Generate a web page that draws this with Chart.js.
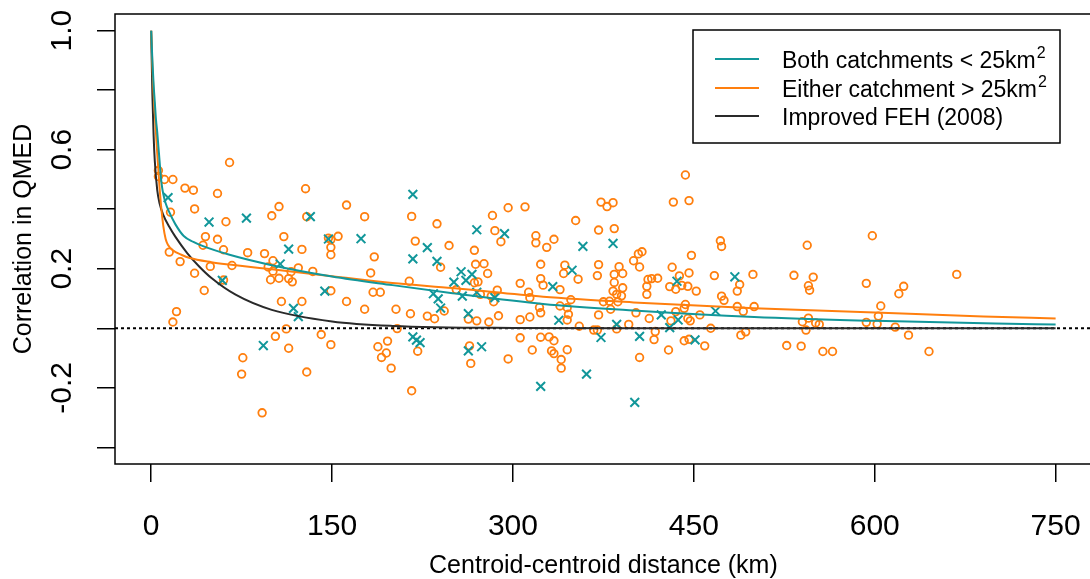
<!DOCTYPE html>
<html><head><meta charset="utf-8">
<script src="https://cdn.jsdelivr.net/npm/chart.js@4/dist/chart.umd.min.js"></script>
<style>html,body{margin:0;padding:0;overflow:hidden;background:#fff}#wrap{width:1100px;height:579px;position:relative}</style>
</head><body><div id="wrap"><canvas id="c" width="1100" height="579"></canvas></div>
<script>
// ---- data ----
const orangeX = [6,6,11,18,65,28,35,55,36,16,62,128,106,100,129,162,45,55,43,60,80,94,110,125,147,149,149,149,155,15,24,36,49,67,60,44,101,97,101,99,106,114,117,116,122,134,149,162,108,125,21,18,112,103,114,141,149,76,75,129,92,
 177,185,182,184,190,177,203,204,215,229,235,243,196,188,195,191,199,216,216,237,219,240,247,214,221,268,271,268,269,276,279,283,285,290,296,310,319,319,323,323,325,253,273,282,287,284,263,270,280,288,306,314,313,314,306,322,323,264,265,296,306,316,323,
 334,328,352,339,343,342,354,371,384,373,378,383,371,370,388,391,384,384,383,386,391,390,387,380,375,381,348,339,345,346,345,371,355,367,370,386,396,402,405,330,334,332,334,340,340,345,400,404,407,405,412,415,420,411,411,413,418,417,432,438,430,435,440,445,446,448,433,446,443,452,443,442,445,447,455,435,431,429,442,446,459,464,467,472,473,473,475,
 488,486,486,491,500,499,489,493,544,533,549,545,546,545,540,543,551,554,527,539,557,565,598,593,624,620,605,603,593,602,617,628,645,668];
const orangeY = [0.53,0.51,0.50,0.50,0.557,0.471,0.464,0.453,0.401,0.39,0.358,0.469,0.409,0.378,0.375,0.414,0.308,0.299,0.279,0.264,0.254,0.251,0.308,0.265,0.303,0.298,0.272,0.247,0.309,0.256,0.224,0.185,0.208,0.211,0.162,0.127,0.227,0.206,0.192,0.163,0.168,0.167,0.156,0.19,0.203,0.191,0.126,0.09,0.09,0.09,0.056,0.021,-0.002,-0.027,-0.067,-0.021,-0.055,-0.099,-0.154,-0.147,-0.284,
 0.375,0.24,0.186,0.121,0.121,0.064,0.064,-0.001,0.049,0.041,0.032,0.058,-0.043,-0.062,-0.083,-0.098,-0.134,-0.21,0.376,0.351,0.293,0.205,0.278,0.158,-0.077,0.153,0.156,0.262,0.215,0.217,0.184,0.379,0.328,0.291,0.405,0.408,0.311,0.287,0.215,0.167,0.145,0.13,0.114,0.108,0.128,0.089,0.031,0.025,0.021,0.042,0.029,0.038,0.121,0.103,0.151,0.07,0.052,-0.059,-0.118,-0.103,-0.032,-0.073,-0.03,
 0.299,0.272,0.362,0.13,0.212,0.184,0.165,0.33,0.335,0.424,0.409,0.422,0.214,0.177,0.207,0.184,0.181,0.154,0.125,0.114,0.136,0.109,0.089,0.091,0.089,0.064,0.096,0.075,0.069,0.047,0.028,0.045,0.007,-0.006,-0.006,-0.002,0.013,0.052,-0.098,-0.029,-0.042,-0.076,-0.085,-0.105,-0.134,-0.072,0.227,0.25,0.257,0.206,0.164,0.167,0.168,0.141,0.114,0.033,-0.011,-0.038,0.205,0.176,0.14,0.131,0.144,0.141,0.186,0.245,0.424,0.429,0.515,0.125,0.08,0.067,0.033,0.025,0.045,0.056,0.025,-0.073,-0.042,-0.037,-0.059,0.0,0.177,0.294,0.275,0.108,0.094,
 0.147,0.125,0.073,0.057,0.073,0.181,-0.023,-0.012,0.279,0.178,0.172,0.143,0.128,0.034,0.022,-0.006,0.018,0.013,-0.058,-0.06,-0.078,-0.078,0.311,0.151,0.141,0.116,0.075,0.041,0.02,0.014,0.004,-0.023,-0.078,0.181];
const tealX = [14,48,79,132,147,174,114,59,107,144,118,122,93,217,217,229,237,234,238,240,217,220,223,257,251,261,266,270,293,258,270,285,263,263,274,323,333,349,358,383,338,373,386,405,361,401,423,436,430,437,451,468,484];
const tealY = [0.439,0.357,0.370,0.375,0.30,0.301,0.266,0.161,0.216,0.125,0.067,0.039,-0.058,0.45,0.233,0.271,0.225,0.116,0.099,0.068,-0.029,-0.04,-0.048,0.19,0.155,0.161,0.181,0.331,0.318,0.108,0.121,0.103,0.049,-0.076,-0.062,-0.195,0.14,0.195,0.275,0.285,0.027,-0.031,0.013,-0.027,-0.154,-0.249,0.045,0.158,0.002,0.028,-0.039,0.058,0.173];

const tealCurveX = [0,1,2,3,4,5,6,7,8,9,10,12,15,20,27,35,43,65,100,150,200,250,325,400,500,600,700,750];
const tealCurveY = [1.0,0.90,0.82,0.76,0.70,0.66,0.61,0.56,0.51,0.475,0.452,0.42,0.39,0.35,0.31,0.29,0.276,0.247,0.212,0.174,0.145,0.118,0.082,0.06,0.038,0.025,0.016,0.013];
const orangeCurveX = [0,1,2,3,4,5,6,7,8,9,10,12,14,18,25,32,50,65,100,150,200,250,325,400,500,600,690,750];
const orangeCurveY = [1.0,0.88,0.79,0.72,0.655,0.59,0.53,0.47,0.42,0.38,0.345,0.30,0.28,0.262,0.247,0.236,0.222,0.214,0.198,0.175,0.152,0.135,0.106,0.087,0.067,0.053,0.04,0.033];
const blackCurveX = [0,1,2,3,5,7,10,15,20,30,40,50,70,100,150,200,300,400,750];
const blackCurveY = [1.0,0.785,0.649,0.562,0.465,0.419,0.381,0.341,0.308,0.252,0.207,0.169,0.113,0.062,0.023,0.008,0.001,0,0];

const xTickValues = [0,150,300,450,600,750];
const xTickLabels = ['0','150','300','450','600','750'];
const yTickValues = [-0.4,-0.2,0,0.2,0.4,0.6,0.8,1.0];
const yLabelValues = [-0.2,0.2,0.6,1.0];
const yTickLabels = ['-0.2','0.2','0.6','1.0'];
const legendLabels = ['Both catchments < 25km','Either catchment > 25km','Improved FEH (2008)'];
const legendSup = ['2','2',''];
const xTitle = 'Centroid-centroid distance (km)';
const yTitle = 'Correlation in QMED';

// ---- styles ----
const ORANGE = '#ff7f0e';
const TEAL = '#12979a';
const DARK = '#2a2a2a';
const FONT = '"Liberation Sans", Arial, Helvetica, sans-serif';

const zip = (xs, ys) => xs.map((x, i) => ({x, y: ys[i]}));

const datasets = [
  {label: legendLabels[0], type: 'line', data: zip(tealCurveX, tealCurveY), borderColor: TEAL, borderWidth: 2, pointRadius: 0, fill: false, cubicInterpolationMode: 'monotone'},
  {label: legendLabels[1], type: 'line', data: zip(orangeCurveX, orangeCurveY), borderColor: ORANGE, borderWidth: 2, pointRadius: 0, fill: false, cubicInterpolationMode: 'monotone'},
  {label: legendLabels[2], type: 'line', data: zip(blackCurveX, blackCurveY), borderColor: DARK, borderWidth: 2, pointRadius: 0, fill: false, cubicInterpolationMode: 'monotone'},
  {label: 'zero', type: 'line', data: [{x: -30, y: 0}, {x: 780, y: 0}], borderColor: '#000', borderWidth: 2, borderDash: [3, 3], pointRadius: 0, fill: false},
  {label: 'small', data: zip(tealX, tealY), pointStyle: 'crossRot', pointRadius: 6.2, borderColor: TEAL, backgroundColor: TEAL, borderWidth: 2, showLine: false},
  {label: 'large', data: zip(orangeX, orangeY), pointStyle: 'circle', pointRadius: 3.8, borderColor: ORANGE, backgroundColor: 'rgba(0,0,0,0)', borderWidth: 1.8, showLine: false}
];

const decor = {
  id: 'decor',
  afterDraw(chart) {
    const ctx = chart.ctx, ca = chart.chartArea;
    const xs = chart.scales.x, ys = chart.scales.y;
    ctx.save();
    // box
    ctx.strokeStyle = '#000'; ctx.lineWidth = 1.5;
    ctx.strokeRect(ca.left, ca.top, ca.right - ca.left, ca.bottom - ca.top);
    // x tick labels
    ctx.fillStyle = '#000';
    ctx.font = '30px ' + FONT;
    ctx.textAlign = 'center'; ctx.textBaseline = 'alphabetic';
    xTickValues.forEach((v, i) => ctx.fillText(xTickLabels[i], xs.getPixelForValue(v), 535));
    // y tick labels (rotated)
    yLabelValues.forEach((v, i) => {
      ctx.save();
      ctx.translate(71, ys.getPixelForValue(v));
      ctx.rotate(-Math.PI / 2);
      ctx.fillText(yTickLabels[i], 0, 0);
      ctx.restore();
    });
    // titles
    ctx.font = '25px ' + FONT;
    ctx.fillText(xTitle, (ca.left + ca.right) / 2, 573);
    ctx.save();
    ctx.translate(31, (ca.top + ca.bottom) / 2);
    ctx.rotate(-Math.PI / 2);
    ctx.fillText(yTitle, 0, 0);
    ctx.restore();
    // legend
    ctx.lineWidth = 1.5; ctx.strokeStyle = '#000';
    ctx.strokeRect(693, 30, 367, 113);
    ctx.textAlign = 'left';
    const rowsY = [59, 88, 116];
    for (let i = 0; i < 3; i++) {
      const ds = chart.data.datasets[i];
      ctx.strokeStyle = ds.borderColor; ctx.lineWidth = 2;
      ctx.beginPath(); ctx.moveTo(715, rowsY[i]); ctx.lineTo(759, rowsY[i]); ctx.stroke();
      ctx.font = '23px ' + FONT;
      ctx.fillStyle = '#000';
      const base = rowsY[i] + 9;
      ctx.fillText(legendLabels[i], 782, base);
      if (legendSup[i]) {
        const w = ctx.measureText(legendLabels[i]).width;
        ctx.font = '16px ' + FONT;
        ctx.fillText(legendSup[i], 782 + w + 1, base - 10);
      }
    }
    ctx.restore();
  }
};

new Chart(document.getElementById('c').getContext('2d'), {
  type: 'scatter',
  data: {datasets},
  options: {
    responsive: false,
    animation: false,
    events: [],
    layout: {padding: {left: 0, right: 4, top: 14, bottom: 0}},
    plugins: {legend: {display: false}, tooltip: {enabled: false}, title: {display: false}},
    scales: {
      x: {
        type: 'linear', min: -30, max: 780,
        afterBuildTicks: s => { s.ticks = xTickValues.map(v => ({value: v})); },
        afterFit: s => { s.height = 115; },
        ticks: {display: false},
        grid: {drawOnChartArea: false, drawTicks: true, tickLength: 18, color: '#000', lineWidth: 1.5},
        border: {display: false}
      },
      y: {
        type: 'linear', min: -0.456, max: 1.056,
        afterBuildTicks: s => { s.ticks = yTickValues.map(v => ({value: v})); },
        afterFit: s => { s.width = 115; },
        ticks: {display: false},
        grid: {drawOnChartArea: false, drawTicks: true, tickLength: 18, color: '#000', lineWidth: 1.5},
        border: {display: false}
      }
    }
  },
  plugins: [decor]
});
</script></body></html>
